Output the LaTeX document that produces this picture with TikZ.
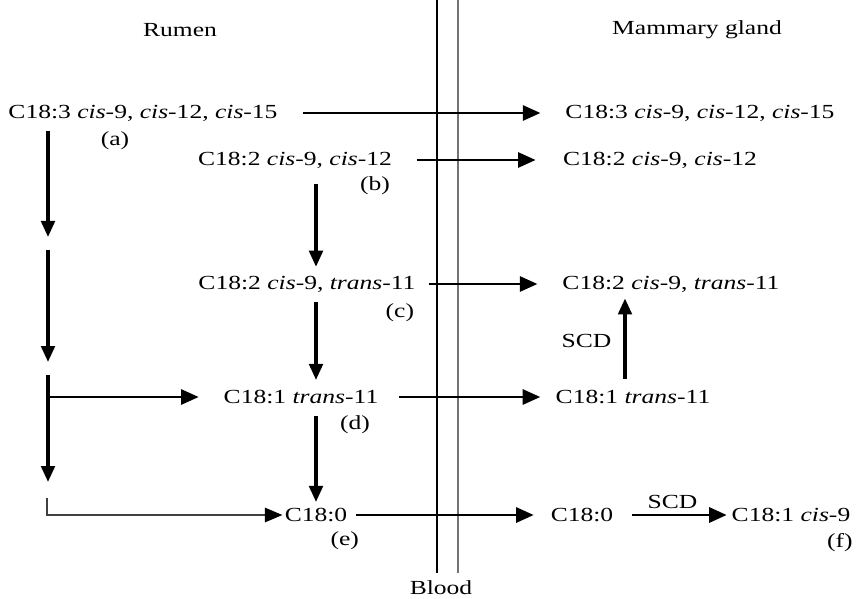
\documentclass[tikz,border=0pt]{standalone}
\usepackage{fontspec}
\setmainfont{Liberation Serif}[FakeStretch=1.28]
\usetikzlibrary{arrows.meta,positioning}

\begin{document}
\begin{tikzpicture}[
    x=0.025cm, y=-0.025cm,
    acid/.style={inner sep=0pt, font=\fontsize{14.2}{17}\selectfont},
    tag/.style={inner sep=0pt, font=\fontsize{14.2}{17}\selectfont},
    flow/.style={-{Triangle[length=0.44cm,width=0.38cm]}, line width=1.7pt},
    conv/.style={-{Triangle[length=0.4cm,width=0.34cm]}, line width=2.3pt},
    feed/.style={-{Triangle[length=0.44cm,width=0.36cm,black]}, line width=1.2pt, black!75},
    wall/.style={line width=0.8pt}
]
\useasboundingbox (0,0) rectangle (856,599);
% headings
\node[acid] (rumen) at (180,30) {Rumen};
\node[acid] (gland) at (697,30) {Mammary gland};
% blood vessel
\draw[wall] (437,0) -- (437,573);
\draw[wall, black!55, line width=1.1pt] (458,0) -- (458,573);
\node[acid] (blood) at (441,588) {Blood};
% rumen side
\node[acid] (ala) at (143,113) {C18:3 \textit{cis}-9, \textit{cis}-12, \textit{cis}-15};
\node[acid] (la) at (295,160) {C18:2 \textit{cis}-9, \textit{cis}-12};
\node[acid] (cla) at (307,284) {C18:2 \textit{cis}-9, \textit{trans}-11};
\node[acid] (va) at (301,397) {C18:1 \textit{trans}-11};
\node[acid] (sa) at (316,515) {C18:0};
\node[tag, below=0.25cm of ala, xshift=-0.7cm] (ta) {(a)};
\node[tag, below=0.2cm of la, xshift=2cm] (tb) {(b)};
\node[tag, below=0.27cm of cla, xshift=2.32cm] (tc) {(c)};
\node[tag, below=0.27cm of va, xshift=1.35cm] (td) {(d)};
\node[tag, below=0.24cm of sa, xshift=0.72cm] (te) {(e)};
% mammary side
\node[acid] (mala) at (700,113) {C18:3 \textit{cis}-9, \textit{cis}-12, \textit{cis}-15};
\node[acid] (mla) at (660,160) {C18:2 \textit{cis}-9, \textit{cis}-12};
\node[acid] (mcla) at (671,284) {C18:2 \textit{cis}-9, \textit{trans}-11};
\node[acid] (mva) at (633,397) {C18:1 \textit{trans}-11};
\node[acid] (msa) at (582,515) {C18:0};
\node[acid] (oa) at (791,515) {C18:1 \textit{cis}-9};
\node[tag, below=0.27cm of oa, xshift=1.22cm] (tf) {(f)};
% left column of the rumen
\coordinate (lc) at (48,0);
\coordinate (l1) at (48,237);
\coordinate (l2) at (48,250);
\coordinate (l3) at (48,362);
\coordinate (l4) at (48,375);
\coordinate (l5) at (48,482);
\coordinate (l6) at (47,498);
\coordinate (scd) at (625,0);
\draw[conv, shorten <=0.25cm] (ala.south -| lc) -- (l1);
\draw[conv] (l2) -- (l3);
\draw[conv] (l4) -- (l5);
\draw[flow, shorten >=0.62cm] (va.west -| lc) -- (va.west);
\draw[feed, shorten >=0.05cm] (l6) |- (sa.west);
% biohydrogenation
\draw[conv, shorten <=0.38cm, shorten >=0.22cm] (la.south -| sa) -- (cla.north -| sa);
\draw[conv, shorten <=0.25cm, shorten >=0.25cm] (cla.south -| sa) -- (va.north -| sa);
\draw[conv, shorten <=0.3cm, shorten >=0.15cm] (va.south -| sa) -- (sa.north);
% transfer to the gland
\draw[flow, shorten <=0.62cm, shorten >=0.62cm] (ala.east) -- (mala.west);
\draw[flow, shorten <=0.62cm, shorten >=0.68cm] (la.east) -- (mla.west);
\draw[flow, shorten <=0.32cm, shorten >=0.62cm] (cla.east) -- (mcla.west);
\draw[flow, shorten <=0.52cm, shorten >=0.38cm] (va.east) -- (mva.west);
\draw[flow, shorten <=0.22cm, shorten >=0.42cm] (sa.east) -- (msa.west);
% desaturation
\draw[conv, shorten <=0.28cm, shorten >=0.15cm] (mva.north -| scd) -- node[acid, left=0.3cm] (scd1) {SCD} (mcla.south -| scd);
\draw[flow, line width=2pt, shorten <=0.45cm, shorten >=0.12cm] (msa.east) -- node[acid, above=0.12cm] (scd2) {SCD} (oa.west);
\end{tikzpicture}
\end{document}
